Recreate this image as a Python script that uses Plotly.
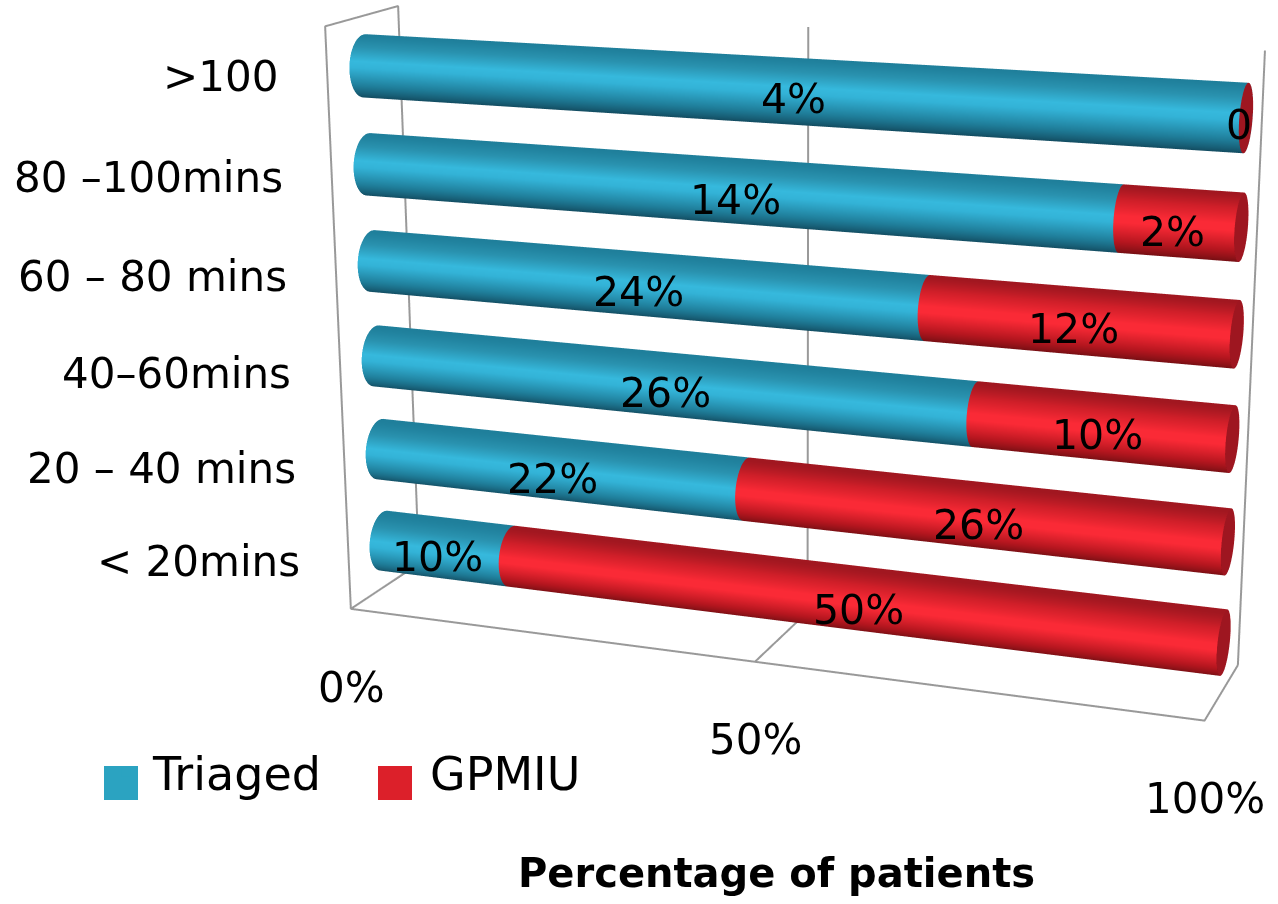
import math
import numpy as np
import plotly.graph_objects as go

categories = ["< 20mins", "20 – 40 mins", "40–60mins", "60 – 80 mins", "80 –100mins", ">100"]
triaged = [10, 22, 26, 24, 14, 4]
gpmiu = [50, 26, 10, 12, 2, 0]
x_ticks = [0, 50, 100]
x_ticktext = ["0%", "50%", "100%"]
W, H = 1278, 904
FONT = "DejaVu Sans"

# small hand offsets (px) of the value labels, by row
dx_triaged = [-10, -6, 1, -2, 8, 12]
dy_triaged = [0, -2, -1, 0, -2, 0]
dx_gpmiu = [6, -2, -4, -6, -8, -7]
dy_gpmiu = [-4, -2, 0, 0, -1, 1]

# camera and scene box: the chart's oblique view needs a weak perspective, so
# the scene is larger than the window and the part beyond its top is scrolled off
eye = (1.05319, -2.85765, 0.78982)
cen = (-0.00610, -0.01841, -0.05624)
upv = (-0.09169, 0.25280, 0.96316)
ay, az = 0.17143, 0.67549
f, Px, Py = 2875.74, 770.39, 399.12

SH = 2 * f * np.tan(np.pi / 8)
SW = 2 * max(abs(Px), abs(W - Px))
stop = Py - SH / 2
sleft = Px - SW / 2
T = max(0, -stop)
L = max(0, -sleft)
LW = math.ceil(max(sleft + SW, W) + L) + 1
LH = math.ceil(max(stop + SH, H) + T) + 1
def px(x): return (x + L) / LW
def py(y): return 1 - (y + T) / LH
clip = lambda v: float(min(1, max(0, v)))

blue = [[0, "#12485c"], [.25, "#1f7d99"], [.55, "#33b3d7"], [.65, "#36b9dd"], [.85, "#2a93b0"], [1, "#1f7f9b"]]
red = [[0, "#6e0e12"], [.25, "#b5161f"], [.55, "#fa2a36"], [.65, "#fa2a36"], [.85, "#d01f29"], [1, "#a11720"]]
light = dict(ambient=1, diffuse=0, specular=0, roughness=1, fresnel=0)
RZ = .315
RY = RZ * (az / 6) / ay
th = np.linspace(0, 2 * np.pi, 73)
fig = go.Figure()
nc = dict(x=dict(show=False), y=dict(show=False), z=dict(show=False))

def cyl(x0, x1, row, cs):
    Y = .5 + RY * np.cos(th)
    Z = row + .5 + RZ * np.sin(th)
    S = np.sin(th)
    fig.add_trace(go.Surface(x=np.c_[np.full(73, x0), np.full(73, x1)], y=np.c_[Y, Y], z=np.c_[Z, Z],
                             surfacecolor=np.c_[S, S], colorscale=cs, cmin=-1, cmax=1, showscale=False,
                             lighting=light, hoverinfo="skip", contours=nc))

def cap(x, row, c):
    Y = np.c_[np.full(73, .5), .5 + RY * np.cos(th)]
    Z = np.c_[np.full(73, row + .5), row + .5 + RZ * np.sin(th)]
    fig.add_trace(go.Surface(x=np.full((73, 2), x), y=Y, z=Z, surfacecolor=np.zeros((73, 2)),
                             colorscale=[[0, c], [1, c]], showscale=False, lighting=light,
                             hoverinfo="skip", contours=nc))

ann = []
def lab(x, row, t, dx, dy):
    ann.append(dict(x=x, y=.5, z=row + .5, text=t, showarrow=False, xshift=dx, yshift=-8 + dy,
                    font=dict(family=FONT, size=41, color="black")))

for i, (a, b) in enumerate(zip(triaged, gpmiu)):
    pa = 100 * a / (a + b)
    cyl(0, pa, i, blue)
    if b > 0:
        cyl(pa, 100, i, red)
    cap(100, i, "#9e1620")
    lab(pa / 2, i, f"{a}%", dx_triaged[i], dy_triaged[i])
    lab((pa + 100) / 2, i, f"{b}%" if b else "0", dx_gpmiu[i], dy_gpmiu[i])
    ann.append(dict(x=0, y=0, z=i + .5, text=categories[i], showarrow=False, xanchor="right", xshift=-47, yshift=1,
                    font=dict(family=FONT, size=42, color="black")))
for v, t in zip(x_ticks, x_ticktext):
    ann.append(dict(x=v, y=0, z=0, text=t, showarrow=False, xshift=1, yshift=-78,
                    font=dict(family=FONT, size=42, color="black")))

wx = [0, 0, 0, 0, 0, 100, 100, 100, None, 50, 50, 50]
wy = [0, 0, 1, 1, 0, 0, 1, 1, None, 1, 1, 0]
wz = [0, 6, 6, 0, 0, 0, 0, 6, None, 6, 0, 0]
fig.add_trace(go.Scatter3d(x=wx, y=wy, z=wz, mode="lines", line=dict(color="#999999", width=4),
                           showlegend=False, hoverinfo="skip"))
CB, CR = "#2ba3c1", "#dc202a"
fig.add_trace(go.Scatter3d(x=[None], y=[None], z=[None], mode="markers", name="Triaged",
                           marker=dict(color=CB, size=9, symbol="square")))
fig.add_trace(go.Scatter3d(x=[None], y=[None], z=[None], mode="markers", name="GPMIU",
                           marker=dict(color=CR, size=9, symbol="square")))

ax = dict(showgrid=False, showbackground=False, zeroline=False, showline=False, showspikes=False,
          ticks="", title="", showticklabels=False)
shapes = []
for x0, c in [(104, CB), (378, CR)]:
    shapes.append(dict(type="rect", xref="paper", yref="paper", x0=px(x0), x1=px(x0 + 34), y0=py(800), y1=py(766),
                       fillcolor=c, line=dict(width=0)))

fig.update_layout(
    width=LW, height=LH, margin=dict(l=0, r=0, t=0, b=0), paper_bgcolor="white", showlegend=True,
    legend=dict(orientation="h", x=px(99), y=py(772), yanchor="middle", xanchor="left", itemwidth=44,
                entrywidth=218, entrywidthmode="pixels", font=dict(family=FONT, size=46, color="black"),
                bgcolor="rgba(0,0,0,0)"),
    scene=dict(domain=dict(x=[clip(px(sleft)), clip(px(sleft + SW))], y=[clip(py(stop + SH)), clip(py(stop))]),
               aspectmode="manual", aspectratio=dict(x=1, y=ay, z=az),
               camera=dict(eye=dict(x=eye[0], y=eye[1], z=eye[2]), center=dict(x=cen[0], y=cen[1], z=cen[2]),
                           up=dict(x=upv[0], y=upv[1], z=upv[2])),
               xaxis=dict(ax, range=[0, 100], tickvals=x_ticks),
               yaxis=dict(ax, range=[0, 1]),
               zaxis=dict(ax, range=[0, 6], tickvals=[i + .5 for i in range(6)]),
               annotations=ann),
    annotations=[dict(x=px(776), y=py(873), xref="paper", yref="paper", xanchor="center", yanchor="middle",
                      text="<b>Percentage of patients</b>", showarrow=False,
                      font=dict(family=FONT, size=40, color="black"))],
    shapes=shapes)

fig.write_html("out.html", config=dict(displayModeBar=False),
               post_script=f"document.body.style.margin='0';document.documentElement.style.overflow='hidden';"
                           f"document.body.style.overflow='hidden';var g=document.getElementsByClassName('plotly-graph-div')[0];"
                           f"g.style.marginTop='{-T:.0f}px';g.style.marginLeft='{-L:.0f}px';")
